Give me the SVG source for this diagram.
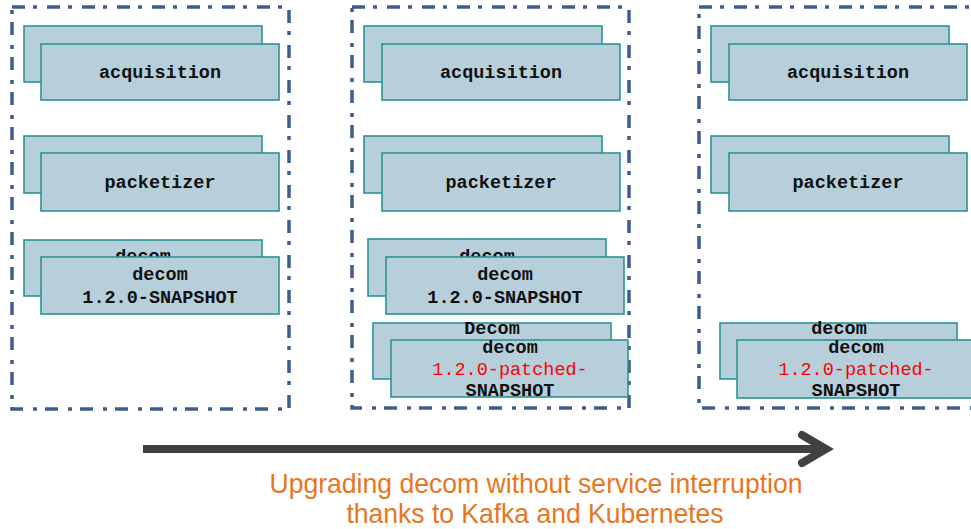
<svg xmlns="http://www.w3.org/2000/svg" width="971" height="529" viewBox="0 0 971 529">
<defs>
<style>
.panel{fill:none;stroke:#3C5D8E;stroke-width:3.5;stroke-dasharray:13 8 4 10}
.box{fill:#B7CFDB;stroke:#2A9494;stroke-width:1.6}
.t{font-family:"Liberation Mono","Courier New",monospace;font-weight:bold;font-size:18.5px;fill:#111;text-anchor:middle}
.red{fill:#FF0000;font-weight:normal}
.cap{font-family:"Liberation Sans",Arial,sans-serif;font-size:28.5px;fill:#E8761E;text-anchor:middle}
.arrow{fill:none;stroke:#404040;stroke-width:8}
</style>
</defs>
<rect width="971" height="529" fill="#fff"/>

<g id="panel1">
<rect class="panel" x="12" y="7" width="277" height="402"/>
<g id="p1-acquisition">
<rect class="box" x="24" y="26" width="238" height="56"/>
<rect class="box" x="41" y="44" width="238" height="56"/>
<text class="t" x="160" y="78">acquisition</text>
</g>
<g id="p1-packetizer">
<rect class="box" x="24" y="136" width="238" height="57"/>
<rect class="box" x="41" y="153" width="238" height="58"/>
<text class="t" x="160" y="188">packetizer</text>
</g>
<g id="p1-decom">
<rect class="box" x="24" y="240" width="238" height="56"/>
<text class="t" x="143" y="262">decom</text>
<rect class="box" x="41" y="257" width="238" height="57"/>
<text class="t" x="160" y="280">decom</text>
<text class="t" x="160" y="303">1.2.0-SNAPSHOT</text>
</g>
</g>

<g id="panel2">
<rect class="panel" x="352" y="7" width="277" height="401"/>
<g id="p2-acquisition">
<rect class="box" x="364" y="26" width="238" height="56"/>
<rect class="box" x="382" y="44" width="238" height="56"/>
<text class="t" x="501" y="78">acquisition</text>
</g>
<g id="p2-packetizer">
<rect class="box" x="364" y="136" width="238" height="57"/>
<rect class="box" x="382" y="153" width="238" height="58"/>
<text class="t" x="501" y="188">packetizer</text>
</g>
<g id="p2-decom">
<rect class="box" x="368" y="239" width="238" height="57"/>
<text class="t" x="487" y="262">decom</text>
<rect class="box" x="386" y="257" width="238" height="57"/>
<text class="t" x="505" y="280">decom</text>
<text class="t" x="505" y="303">1.2.0-SNAPSHOT</text>
</g>
<g id="p2-decom-patched">
<rect class="box" x="373" y="323" width="238" height="56"/>
<text class="t" x="492" y="334">Decom</text>
<rect class="box" x="391" y="340" width="237" height="57"/>
<text class="t" x="510" y="353">decom</text>
<text class="t red" x="510" y="375">1.2.0-patched-</text>
<text class="t" x="510" y="396">SNAPSHOT</text>
</g>
</g>

<g id="panel3">
<rect class="panel" x="699" y="7" width="280" height="401"/>
<g id="p3-acquisition">
<rect class="box" x="711" y="26" width="238" height="56"/>
<rect class="box" x="729" y="44" width="238" height="56"/>
<text class="t" x="848" y="78">acquisition</text>
</g>
<g id="p3-packetizer">
<rect class="box" x="711" y="136" width="238" height="57"/>
<rect class="box" x="729" y="153" width="238" height="58"/>
<text class="t" x="848" y="188">packetizer</text>
</g>
<g id="p3-decom-patched">
<rect class="box" x="720" y="323" width="237" height="56"/>
<text class="t" x="839" y="334">decom</text>
<rect class="box" x="737" y="340" width="238" height="58"/>
<text class="t" x="856" y="353">decom</text>
<text class="t red" x="856" y="375">1.2.0-patched-</text>
<text class="t" x="856" y="396">SNAPSHOT</text>
</g>
</g>

<g id="connectors">
<line class="arrow" x1="143" y1="449" x2="824" y2="449"/>
<polyline class="arrow" points="802,435 826,449 802,463" stroke-linecap="round" stroke-linejoin="miter"/>
</g>

<g id="caption">
<text class="cap" x="536" y="493" textLength="533" lengthAdjust="spacingAndGlyphs">Upgrading decom without service interruption</text>
<text class="cap" x="535" y="523" textLength="377" lengthAdjust="spacingAndGlyphs">thanks to Kafka and Kubernetes</text>
</g>
</svg>
